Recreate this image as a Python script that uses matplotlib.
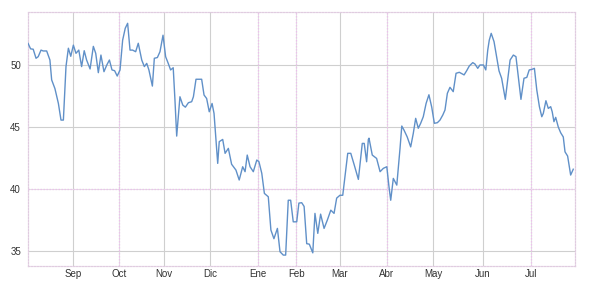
import matplotlib
matplotlib.use("Agg")
import matplotlib.pyplot as plt

# trading-session index (x) and price (y)
session = [0.0, 1.2, 2.4, 3.7, 4.7, 6.0, 7.0, 8.6, 10.1, 10.9, 12.4, 14.0, 15.2, 16.3, 17.5, 18.6,
           19.7, 20.9, 22.1, 23.4, 24.7, 25.9, 27.0, 28.6, 30.1, 31.2, 32.4, 33.6, 35.0, 36.3, 37.5,
           38.7, 39.9, 41.1, 42.4, 43.6, 44.8, 45.9, 47.0, 48.2, 49.6, 50.8, 52.4, 53.6, 54.7, 55.7,
           57.3, 58.2, 59.6, 60.8, 62.2, 63.4, 64.6, 65.7, 66.9, 67.7, 68.5, 70.0, 71.3, 72.5, 73.9,
           75.4, 76.2, 77.4, 80.0, 81.1, 82.3, 83.5, 84.8, 85.7, 86.6, 87.4, 88.1, 89.7, 90.8, 92.3,
           93.8, 95.8, 97.3, 98.9, 100.0, 101.0, 102.3, 103.8, 105.4, 106.4, 107.7, 108.9, 110.7,
           111.9, 113.3, 114.9, 116.1, 117.6, 118.7, 119.9, 121.0, 122.2, 123.8, 124.8, 126.1, 127.2,
           128.4, 129.6, 131.2, 132.2, 133.5, 134.8, 136.4, 137.9, 139.5, 141.0, 142.2, 143.7, 145.0,
           147.3, 148.7, 150.3, 152.2, 154.0, 154.9, 156.0, 156.8, 157.1, 158.6, 160.6, 162.2, 163.7,
           165.3, 166.3, 167.1, 168.3, 169.9, 171.4, 172.2, 173.2, 174.7, 176.3, 177.5, 178.6, 179.8,
           180.9, 182.1, 183.4, 184.7, 186.0, 187.2, 188.6, 189.8, 191.1, 192.1, 193.2, 194.4, 195.9,
           197.2, 198.7, 200.9, 202.1, 203.3, 204.9, 205.9, 207.2, 208.2, 209.8, 210.9, 211.8, 212.5,
           213.4, 214.7, 215.9, 217.0, 218.2, 219.0, 219.9, 220.8, 222.1, 223.6, 224.8, 225.9, 227.1,
           228.5, 229.8, 230.9, 232.2, 233.3, 234.4, 235.6, 236.7, 237.4, 238.6, 239.7, 240.8, 241.5,
           242.3, 243.1, 244.3, 245.4, 246.6, 247.4, 248.6, 250.0, 251.2]
price = [51.75, 51.3, 51.27, 50.54, 50.67, 51.2, 51.13, 51.13, 50.4, 48.8, 48.1, 46.9, 45.56, 45.56,
         49.87, 51.35, 50.7, 51.6, 50.94, 51.2, 49.87, 51.15, 50.4, 49.68, 51.5, 50.94, 49.38, 50.8,
         49.46, 50.0, 50.4, 49.6, 49.54, 49.11, 49.6, 52.0, 52.96, 53.36, 51.2, 51.2, 51.07, 51.75,
         50.4, 49.87, 50.13, 49.6, 48.3, 50.54, 50.6, 51.07, 52.4, 50.67, 50.13, 49.6, 49.78, 47.18,
         44.27, 47.44, 46.77, 46.6, 46.96, 47.04, 47.44, 48.85, 48.85, 47.58, 47.3, 46.23, 46.9, 46.1,
         43.95, 42.07, 43.82, 44.0, 42.88, 43.28, 42.0, 41.53, 40.73, 41.8, 41.4, 42.74, 41.8, 41.4,
         42.34, 42.2, 41.27, 39.65, 39.38, 36.7, 36.0, 36.83, 34.95, 34.68, 34.68, 39.1, 39.1, 37.36,
         37.36, 38.87, 38.9, 38.6, 35.6, 35.56, 34.86, 38.04, 36.43, 37.98, 36.83, 37.5, 38.3, 38.04,
         39.27, 39.5, 39.5, 42.88, 42.88, 41.94, 40.78, 43.68, 43.68, 42.2, 44.0, 44.1, 42.74, 42.47,
         41.4, 41.67, 41.8, 40.19, 39.1, 40.86, 40.32, 43.3, 45.08, 44.76, 44.2, 43.4, 44.49, 45.7,
         44.9, 45.3, 45.83, 46.9, 47.6, 46.6, 45.3, 45.35, 45.56, 45.97, 46.37, 47.72, 48.2, 47.85,
         49.33, 49.41, 49.2, 49.54, 49.92, 50.19, 50.08, 49.73, 50.0, 50.0, 49.6, 51.2, 52.0, 52.55,
         51.88, 50.67, 49.52, 48.93, 48.12, 47.23, 48.52, 50.4, 50.8, 50.67, 49.06, 47.23, 48.93,
         49.0, 49.6, 49.65, 49.73, 47.98, 46.64, 45.83, 46.1, 47.12, 46.5, 46.64, 46.23, 45.43, 45.78,
         45.0, 44.54, 44.2, 43.0, 42.66, 41.13, 41.6]

month_labels = ["Sep", "Oct", "Nov", "Dic", "Ene", "Feb", "Mar", "Abr", "May", "Jun", "Jul"]
month_pos = [20.7, 41.9, 62.7, 83.8, 106.0, 123.5, 143.7, 165.4, 186.6, 209.6, 231.7]
y_ticks = [35, 40, 45, 50]

plt.rcParams['font.family'] = ['Liberation Sans', 'DejaVu Sans']

fig = plt.figure(figsize=(6.08, 2.89), dpi=100)
ax = fig.add_axes([28/608, 1-266/289, (575-28)/608, (266-12)/289])

ax.set_xlim(0, 252)
ax.set_ylim(33.8, 54.27)

pink_x = {"Oct", "Ene", "Feb", "Abr", "Jul"}
for lab, p in zip(month_labels, month_pos):
    if lab in pink_x:
        ax.axvline(p, color='#e2e2e2', lw=0.8, zorder=1)
        ax.axvline(p, color='#ecc0ec', lw=0.9, ls=(0, (1.2, 1.2)), zorder=1.1)
    else:
        ax.axvline(p, color='#cfcfcf', lw=0.8, zorder=1)
for v in y_ticks:
    if v == 40:
        ax.axhline(v, color='#e2e2e2', lw=0.8, zorder=1)
        ax.axhline(v, color='#ecc0ec', lw=0.9, ls=(0, (1.2, 1.2)), zorder=1.1)
    else:
        ax.axhline(v, color='#cfcfcf', lw=0.8, zorder=1)

ax.plot(session, price, color='#6090c8', lw=1.0, zorder=3)

ax.set_xticks(month_pos)
ax.set_xticklabels(month_labels)
ax.set_yticks(y_ticks)
ax.tick_params(axis='x', length=0, labelsize=7, colors='#333333', pad=2)
ax.tick_params(axis='y', length=0, labelsize=7, colors='#333333', pad=5)

for s in ax.spines.values():
    s.set_color('#e0cce0')
    s.set_linestyle((0, (1.2, 1.2)))
    s.set_linewidth(0.9)

fig.savefig("out.png", dpi=100)
